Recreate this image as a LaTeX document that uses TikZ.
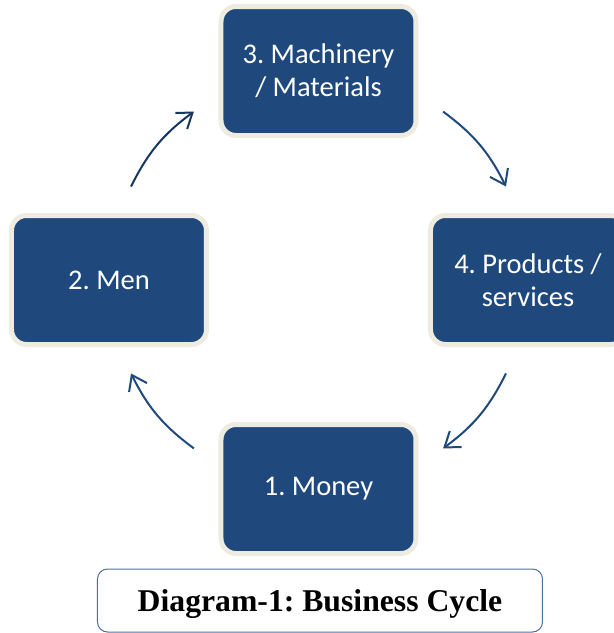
\documentclass[tikz,border=0pt]{standalone}
\usepackage{fontspec}
\setmainfont{Liberation Serif}
\newfontfamily\boxfont{Carlito}
\usepackage{tikz}
\usetikzlibrary{calc, arrows.meta}
\definecolor{boxblue}{HTML}{1F497D}
\definecolor{boxrim}{HTML}{EEECE1}
\definecolor{arrowdark}{HTML}{17375E}
\definecolor{capline}{HTML}{4F6F9F}
\tikzstyle{stage}=[draw=boxrim, fill=boxblue, line width=5pt, rounded corners=15pt, minimum width=195pt, minimum height=129pt, inner sep=0pt, align=center, text=white, font=\boxfont\frenchspacing\fontsize{28.5}{33}\selectfont]
\tikzstyle{flow}=[draw=boxblue, line width=2pt, ->]
\tikzstyle{caption}=[draw=capline, line width=1pt, rounded corners=10pt, minimum width=445pt, minimum height=63pt, inner sep=0pt, text depth=0pt, font=\bfseries\frenchspacing\fontsize{31.7}{38}\selectfont]
\tikzset{>={Straight Barb[length=14pt,width=20pt]}}

\begin{document}
\begin{tikzpicture}[x=1pt, y=1pt]
\useasboundingbox (-318.5,-353) rectangle (295.5,280);
% the four stages
\node[stage] (S1) at (270:209) {1. Money};
\node[stage] (S2) at (180:209.5) {2. Men};
\node[stage] (S3) at (90:209) {3. Machinery\\/ Materials};
\node[stage] (S4) at (0:209.5) {4. Products /\\services};
% the ends of the arrows
\coordinate (P1) at (233.5:209.5);
\coordinate (Q1) at (206.5:209.5);
\coordinate (P2) at (153.5:209.5);
\coordinate (Q2) at (126.5:209.5);
\coordinate (P3) at (53.5:209.5);
\coordinate (Q3) at (26.5:209.5);
\coordinate (P4) at (-26.5:209.5);
\coordinate (Q4) at (-53.5:209.5);
% the arrows
\draw[flow] (P1) to[bend left=13.5] (Q1);
\draw[flow, arrowdark] (P2) to[bend left=13.5] (Q2);
\draw[flow] (P3) to[bend left=13.5] (Q3);
\draw[flow] (P4) to[bend left=13.5] (Q4);
% the caption
\node[caption] (T) at (1.5,-320.5) {Diagram-1: Business Cycle};
\end{tikzpicture}
\end{document}
